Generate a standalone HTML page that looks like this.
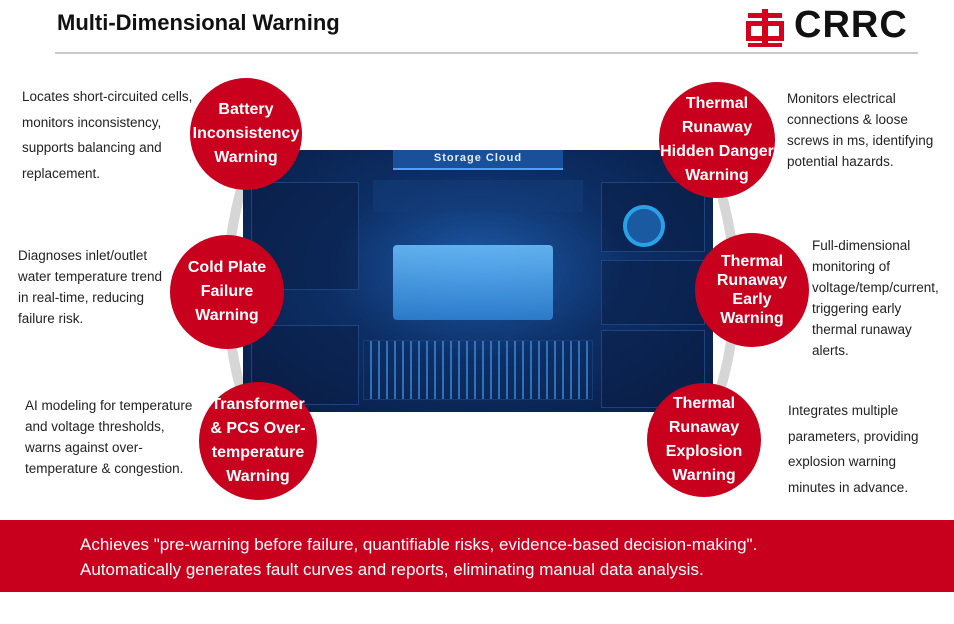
<!DOCTYPE html>
<html><head><meta charset="utf-8"><style>
*{margin:0;padding:0;box-sizing:border-box}
body{width:954px;height:624px;background:#fff;position:relative;overflow:hidden;font-family:"Liberation Sans",Arial,sans-serif;color:#222}
.a{position:absolute}
.c{position:absolute;border-radius:50%;background:#c8001e;color:#fff;font-weight:bold;font-size:16px;line-height:24px;text-align:center;display:flex;align-items:center;justify-content:center}
.t{position:absolute;font-size:13.5px;line-height:25.5px;color:#222}
</style></head><body>
<div class="a" style="left:57px;top:10px;font-size:22px;font-weight:bold;color:#111">Multi-Dimensional Warning</div>
<div class="a" style="left:55px;top:52px;width:863px;height:2px;background:#c8c8c8"></div>
<svg class="a" style="left:745px;top:9px" width="40" height="38" viewBox="0 0 40 38">
<rect x="17" y="0" width="6" height="38" fill="#d3001e"/>
<rect x="3" y="4" width="34" height="5" fill="#d3001e"/>
<rect x="1" y="12" width="38" height="20" fill="#d3001e"/>
<rect x="6" y="17" width="28" height="10" fill="#fff"/>
<rect x="17" y="17" width="6" height="10" fill="#d3001e"/>
<rect x="3" y="34" width="34" height="4" fill="#d3001e"/>
</svg>
<div class="a" style="left:794px;top:4px;font-size:38px;font-weight:bold;color:#111;letter-spacing:1px">CRRC</div>

<svg class="a" style="left:0;top:0" width="954" height="520">
<path d="M250 160 Q205 290 250 420" fill="none" stroke="#d6d6d6" stroke-width="10"/>
<path d="M710 160 Q760 290 710 420" fill="none" stroke="#d6d6d6" stroke-width="10"/>
</svg>

<div class="a" style="left:243px;top:150px;width:470px;height:262px;background:radial-gradient(ellipse at 50% 45%,#1d5aa8 0%,#0d2f66 45%,#081c44 100%);overflow:hidden">
 <div class="a" style="left:150px;top:0;width:170px;height:20px;background:#1a4f9a;border-bottom:2px solid #4aa3ff"></div>
 <div class="a" style="left:0;top:2px;width:470px;text-align:center;color:#dfeeff;font-weight:bold;font-size:11px;letter-spacing:1px">Storage Cloud</div>
 <div class="a" style="left:8px;top:32px;width:108px;height:108px;border:1px solid #1c4580;background:rgba(10,30,70,.5)"></div>
 <div class="a" style="left:8px;top:175px;width:108px;height:80px;border:1px solid #1c4580;background:rgba(10,30,70,.5)"></div>
 <div class="a" style="left:358px;top:32px;width:104px;height:70px;border:1px solid #1c4580;background:rgba(10,30,70,.5)"></div>
 <div class="a" style="left:358px;top:110px;width:104px;height:65px;border:1px solid #1c4580;background:rgba(10,30,70,.5)"></div>
 <div class="a" style="left:358px;top:180px;width:104px;height:78px;border:1px solid #1c4580;background:rgba(10,30,70,.5)"></div>
 <div class="a" style="left:130px;top:30px;width:210px;height:32px;background:rgba(20,60,120,.6)"></div>
 <div class="a" style="left:120px;top:190px;width:230px;height:60px;border:1px solid #1c4580;background:repeating-linear-gradient(90deg,transparent 0 6px,#3f8fe0 6px 8px);opacity:.7"></div>
 <div class="a" style="left:150px;top:95px;width:160px;height:75px;background:linear-gradient(#6ec3ff,#2f85d8);border-radius:4px;opacity:.85"></div>
 <div class="a" style="left:380px;top:55px;width:42px;height:42px;border-radius:50%;border:4px solid #2aa0e8;background:#1a5aa0"></div>
</div>

<div class="c" style="left:190px;top:78px;width:112px;height:112px">Battery<br>Inconsistency<br>Warning</div>
<div class="c" style="left:170px;top:235px;width:114px;height:114px">Cold Plate<br>Failure<br>Warning</div>
<div class="c" style="left:199px;top:382px;width:118px;height:118px">Transformer<br>&amp; PCS Over-<br>temperature<br>Warning</div>
<div class="c" style="left:659px;top:82px;width:116px;height:116px">Thermal<br>Runaway<br>Hidden Danger<br>Warning</div>
<div class="c" style="left:695px;top:233px;width:114px;height:114px;line-height:19px">Thermal<br>Runaway<br>Early<br>Warning</div>
<div class="c" style="left:647px;top:383px;width:114px;height:114px">Thermal<br>Runaway<br>Explosion<br>Warning</div>

<div class="t" style="left:22px;top:84px">Locates short-circuited cells,<br>monitors inconsistency,<br>supports balancing and<br>replacement.</div>
<div class="t" style="left:18px;top:245px;line-height:21px">Diagnoses inlet/outlet<br>water temperature trend<br>in real-time, reducing<br>failure risk.</div>
<div class="t" style="left:25px;top:395px;line-height:21px">AI modeling for temperature<br>and voltage thresholds,<br>warns against over-<br>temperature &amp; congestion.</div>
<div class="t" style="left:787px;top:88px;line-height:21px">Monitors electrical<br>connections &amp; loose<br>screws in ms, identifying<br>potential hazards.</div>
<div class="t" style="left:812px;top:235px;line-height:21px">Full-dimensional<br>monitoring of<br>voltage/temp/current,<br>triggering early<br>thermal runaway<br>alerts.</div>
<div class="t" style="left:788px;top:398px;line-height:25.5px">Integrates multiple<br>parameters, providing<br>explosion warning<br>minutes in advance.</div>

<div class="a" style="left:0;top:520px;width:954px;height:72px;background:#c8001e"></div>
<div class="a" style="left:80px;top:532px;color:#fff;font-size:17px;line-height:25px">Achieves "pre-warning before failure, quantifiable risks, evidence-based decision-making".<br>Automatically generates fault curves and reports, eliminating manual data analysis.</div>
</body></html>
